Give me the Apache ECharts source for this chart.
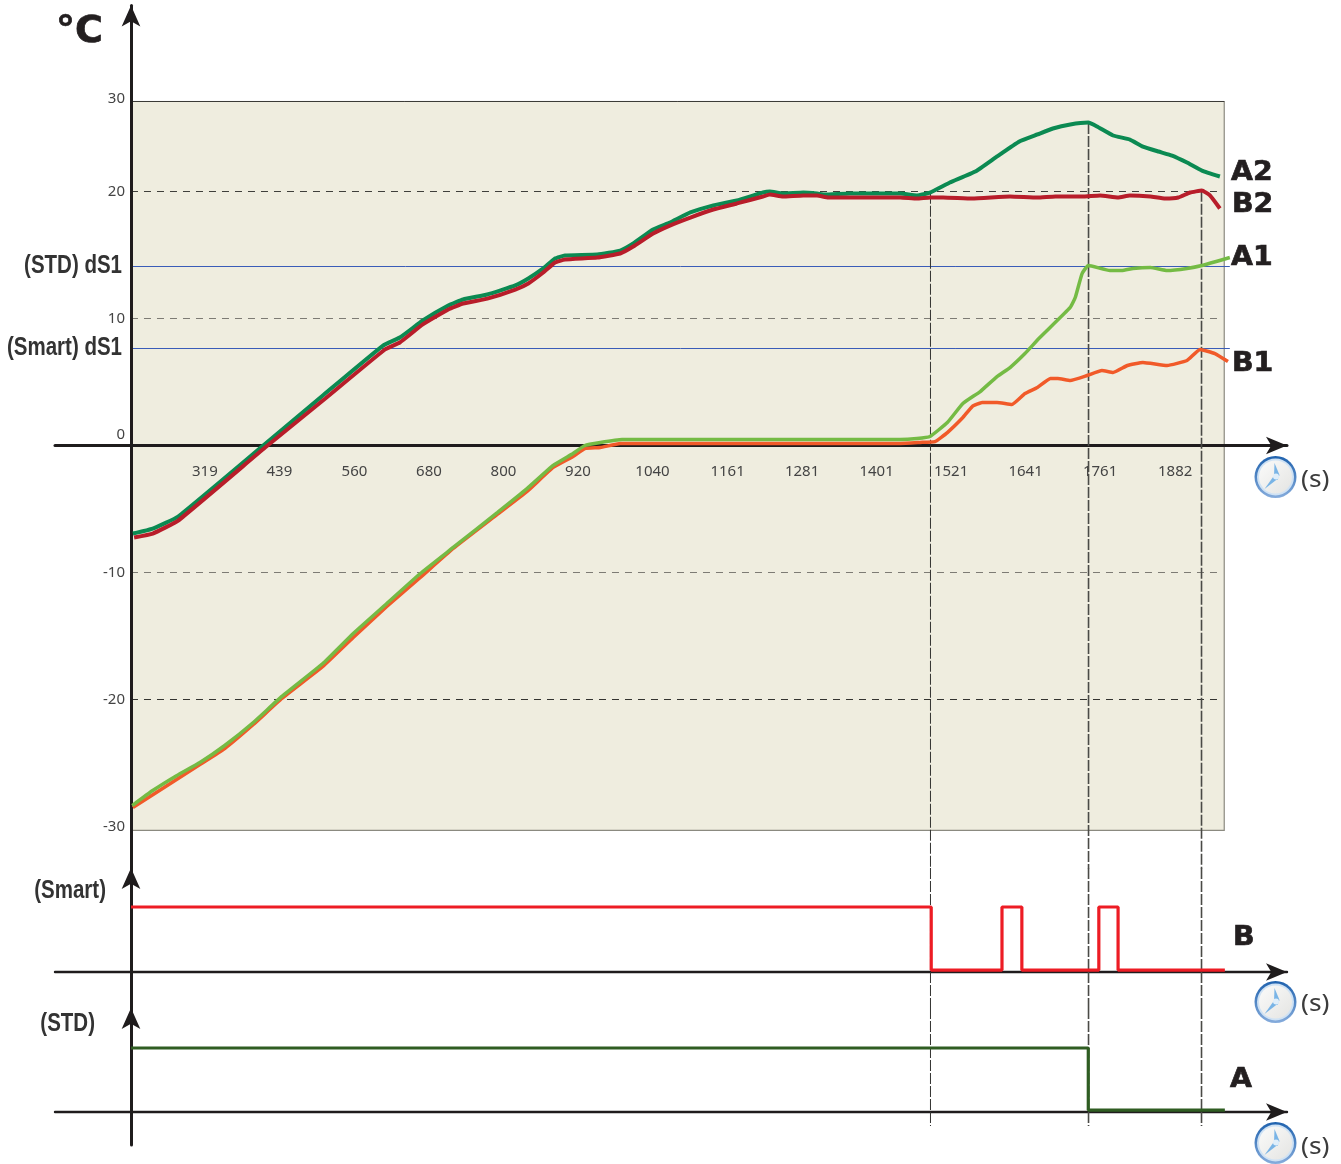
<!DOCTYPE html>
<html>
<head>
<meta charset="utf-8">
<style>html,body{margin:0;padding:0;background:#fff}#c{width:1341px;height:1164px}</style>
<script src="https://cdn.jsdelivr.net/npm/echarts@6/dist/echarts.min.js"></script>
</head>
<body>
<div id="c"></div>
<script>
// ---- data ----
const xTicks = [319,439,560,680,800,920,1040,1161,1281,1401,1521,1641,1761,1882];
const yTicks = [-30,-20,-10,0,10,20,27.087];
const yTickLabels = ['-30','-20','-10','0','10','20','30'];
const dashLevels = [20,10,-10,-20];
const dashColors = ['#3f3f3b','#7d7b74','#7d7b74','#33332f'];
const setpoints = [14.094,7.638];
const markerTimes = [1487.8,1742.4,1924.4];
const markerTops = [19.9,25.4,20.05];

const a2 = [[203,-6.93],[235,-6.54],[276,-5.59],[413,0],[509,3.94],[606,7.87],[633,8.5],[670,9.84],[711,11.02],[735,11.5],[774,11.89],[819,12.6],[840,13.15],[864,13.94],[883,14.72],[899,14.96],[951,15.04],[988,15.35],[1009,15.91],[1041,17.01],[1068,17.56],[1101,18.35],[1138,18.9],[1176,19.29],[1218,19.92],[1229,20],[1250,19.84],[1283,19.92],[1305,19.84],[1318,19.76],[1358,19.84],[1439,19.84],[1466,19.69],[1487,19.92],[1519,20.71],[1560,21.57],[1595,22.76],[1631,23.94],[1660,24.49],[1685,24.96],[1713,25.28],[1742,25.43],[1756,25.12],[1782,24.41],[1809,24.09],[1830,23.54],[1855,23.15],[1877,22.83],[1901,22.28],[1925,21.65],[1954,21.18]];
const b2 = [[205,-7.24],[235,-6.93],[276,-5.91],[416,-0.16],[513,3.7],[609,7.56],[633,8.11],[670,9.53],[711,10.71],[735,11.18],[774,11.57],[819,12.28],[840,12.76],[864,13.62],[883,14.41],[899,14.65],[951,14.8],[988,15.12],[1009,15.67],[1041,16.69],[1068,17.32],[1101,17.95],[1138,18.58],[1176,19.06],[1218,19.61],[1229,19.76],[1250,19.61],[1283,19.69],[1305,19.69],[1323,19.53],[1358,19.53],[1439,19.53],[1466,19.45],[1487,19.53],[1508,19.53],[1555,19.45],[1616,19.61],[1660,19.53],[1689,19.61],[1732,19.61],[1761,19.69],[1790,19.53],[1809,19.69],[1842,19.61],[1866,19.45],[1887,19.53],[1906,19.92],[1925,20.08],[1938,19.69],[1954,18.66]];
const a1 = [[202,-28.35],[235,-27.17],[274,-25.98],[311,-24.96],[351,-23.62],[397,-21.81],[443,-19.76],[509,-17.17],[558,-14.8],[612,-12.44],[666,-10.08],[719,-8.03],[790,-5.28],[838,-3.39],[880,-1.57],[912,-0.63],[931,0],[956,0.24],[991,0.47],[1439,0.47],[1466,0.55],[1487,0.71],[1515,1.81],[1540,3.31],[1568,4.25],[1595,5.43],[1616,6.14],[1640,7.24],[1664,8.5],[1713,10.87],[1721,11.65],[1732,13.54],[1742,14.17],[1777,13.78],[1796,13.78],[1814,13.94],[1842,14.02],[1869,13.78],[1901,13.94],[1925,14.17],[1970,14.8]];
const b1 = [[203,-28.5],[311,-25.12],[351,-23.86],[397,-21.97],[443,-19.92],[509,-17.4],[558,-15.12],[612,-12.68],[666,-10.39],[719,-8.11],[790,-5.43],[838,-3.62],[880,-1.73],[912,-0.87],[931,-0.24],[956,-0.16],[988,0.16],[1439,0.16],[1471,0.24],[1495,0.31],[1515,1.02],[1540,2.2],[1555,3.07],[1571,3.39],[1595,3.39],[1619,3.23],[1640,4.09],[1660,4.57],[1681,5.28],[1693,5.28],[1713,5.12],[1740,5.51],[1764,5.91],[1782,5.75],[1805,6.3],[1830,6.54],[1869,6.3],[1901,6.69],[1922,7.56],[1946,7.24],[1967,6.61]];
const smartTimes = [200,1489,1603,1635,1759,1790,1962];
const smartStates = [1,0.03,1,0.03,1,0.03,0.03];
const stdTimes = [200,1742,1962];
const stdStates = [1,0.03,0.03];

// ---- scales ----
const T0 = 200, T1 = 1961;
const TMIN = 77.58, TMAX = 2062.1;
const PLOT_TOP = 27.087, PLOT_BOTTOM = -30.31;
const FONT = '"Noto Sans", sans-serif';
const NARROW = '"Liberation Sans", sans-serif';
const HEAVY = '"DejaVu Sans", sans-serif';

const chart = echarts.init(document.getElementById('c'), null, {renderer:'canvas'});

function xAxis(i, width){
  return {type:'value', gridIndex:i, min:TMIN, max:TMAX, z:1, silent:true,
    axisLine:{show:true, onZero:true, symbol:['none','arrow'], symbolSize:[13,21], lineStyle:{color:'#1f1c1d', width:width}},
    axisTick:{show:false}, splitLine:{show:false}, axisLabel:{show:false}};
}
function yAxis(i, min, max, labels){
  return {type:'value', gridIndex:i, min:min, max:max, z:1, silent:true, position:'left', offset:-76,
    axisLine:{show:true, onZero:false, symbol:['none','arrow'], symbolSize:[14,21], lineStyle:{color:'#1f1c1d', width:3}},
    axisTick:{show:false}, splitLine:{show:false},
    axisLabel: labels ? {show:true, customValues:yTicks, margin:6, hideOverlap:false,
      formatter:function(v){
        const t = yTickLabels[yTicks.indexOf(v)];
        if (t==='0') return '{zero|0}';
        if (t==='30') return '{top|30}';
        return '{n|'+t+'}';
      },
      rich:{
        n:{fontFamily:FONT,fontSize:15,color:'#444',padding:[1,0,0,0]},
        zero:{fontFamily:FONT,fontSize:15,color:'#444',padding:[0,0,21,0]},
        top:{fontFamily:FONT,fontSize:15,color:'#444',padding:[0,0,5,0]}
      }} : {show:false}};
}
function line(name, data, color, width, z, extra){
  return Object.assign({name:name, type:'line', data:data, symbol:'none', silent:true, clip:false, z:z,
    animation:false, lineStyle:{color:color, width:width}}, extra||{});
}

const series = [];
series.push({name:'plot', type:'line', data:[[T0,0]], symbol:'none', silent:true, z:0, animation:false, lineStyle:{opacity:0},
  markArea:{silent:true, z:0, animation:false, itemStyle:{color:'#efeddf', borderColor:'#8b8a80', borderWidth:1.2},
    data:[[{coord:[T0,PLOT_TOP]},{coord:[T1,PLOT_BOTTOM]}]]}});
series.push(line('plot top', [[T0,PLOT_TOP],[T1,PLOT_TOP]], '#3a3a36', 1, 0.5));
dashLevels.forEach(function(v,i){
  series.push(line('level '+v, [[T0,v],[1954,v]], dashColors[i], 1, 0.5, {lineStyle:{color:dashColors[i],width:1,type:[7,6]}}));
});
setpoints.forEach(function(v){
  series.push(line('dS1 '+v, [[T0,v],[1970,v]], '#3a5cb8', 1, 0.6));
});
markerTimes.forEach(function(t,i){
  const st = {color:i===0?'#333331':'#4a4a46', width:i===0?1:1.6, type:[11,2]};
  series.push(line('marker a'+i, [[t,markerTops[i]],[t,-33.3]], st.color, st.width, 1.5, {lineStyle:st}));
  series.push(line('marker b'+i, [[t,1.6],[t,-0.5538]], st.color, st.width, 1.5, {lineStyle:st, xAxisIndex:1, yAxisIndex:1}));
  series.push(line('marker c'+i, [[t,1.625],[t,-0.2188]], st.color, st.width, 1.5, {lineStyle:st, xAxisIndex:2, yAxisIndex:2}));
});
const sm = {smooth:0.12};
series.push(line('A2', a2, '#0b8a52', 4, 2, sm));
series.push(line('B2', b2, '#b81d2a', 4, 3, sm));
series.push(line('B1', b1, '#f15a29', 3.5, 4, sm));
series.push(line('A1', a1, '#74bb44', 3.5, 5, sm));
series.push(line('B', smartTimes.map(function(t,i){return [t,smartStates[i]];}), '#ed1c24', 3.2, 3, {step:'end', xAxisIndex:1, yAxisIndex:1}));
series.push(line('A', stdTimes.map(function(t,i){return [t,stdStates[i]];}), '#2f5d22', 3.2, 3, {step:'end', xAxisIndex:2, yAxisIndex:2}));

function clock(cx, cy){
  return {type:'group', x:cx, y:cy, silent:true, z:10, children:[
    {type:'circle', shape:{cx:0,cy:0,r:21}, style:{fill:{type:'linear',x:0,y:0,x2:0,y2:1,colorStops:[{offset:0,color:'#1f62ae'},{offset:1,color:'#86acdc'}]}}},
    {type:'circle', shape:{cx:0,cy:0,r:18.5}, style:{fill:'#cfe2f4'}},
    {type:'circle', shape:{cx:0,cy:0,r:16.5}, style:{fill:{type:'linear',x:0,y:0,x2:1,y2:1,colorStops:[{offset:0,color:'#fbfbfa'},{offset:1,color:'#e4e4e2'}]}}},
    {type:'polygon', shape:{points:[[-1.5,0],[-1,-14],[4,-2],[2,3]]}, style:{fill:'#79b4e6'}},
    {type:'polygon', shape:{points:[[-1,-2],[2,2],[-11,12]]}, style:{fill:'#79b4e6'}},
    {type:'circle', shape:{cx:0.5,cy:-0.5,r:3}, style:{fill:'#dfeefa'}}
  ]};
}
function txt(x, y, s, font, size, weight, color, align, sx, heavy){
  const style = {text:s, fontFamily:font, fontSize:size, fontWeight:weight, fill:color, align:align||'left', verticalAlign:'middle'};
  if (heavy) { style.stroke = color; style.lineWidth = 0.7; }
  return {type:'text', x:x, y:y, silent:true, z:10, scaleX:sx||1, style:style};
}
function big(x, y, s){ return txt(x, y, s, HEAVY, 27, 'bold', '#231f20', 'left', 1.05, true); }

chart.setOption({
  animation:false,
  backgroundColor:'#fff',
  grid:[
    {left:55, top:5.5, width:1232, height:863, outerBoundsMode:'none'},
    {left:55, top:868, width:1232, height:140, outerBoundsMode:'none'},
    {left:55, top:1008, width:1232, height:137, outerBoundsMode:'none'},
    {left:55, top:5, width:1232, height:440, outerBoundsMode:'none'}
  ],
  xAxis:[xAxis(0,3), xAxis(1,2.4), xAxis(2,2.4),
    {type:'value', gridIndex:3, min:TMIN, max:TMAX, position:'bottom', z:1, silent:true,
     axisLine:{show:false}, axisTick:{show:false}, splitLine:{show:false},
     axisLabel:{show:true, customValues:xTicks, margin:19, fontFamily:FONT, fontSize:15, color:'#444', hideOverlap:false, formatter:function(v){return String(v);}}}
  ],
  yAxis:[yAxis(0,-33.307,34.646,true), yAxis(1,-0.5538,1.6,false), yAxis(2,-0.5156,1.625,false),
    {type:'value', gridIndex:3, show:false, min:0, max:1}
  ],
  series:series,
  graphic:[
    txt(56,32,'°C',HEAVY,38,'bold','#231f20','left',1,true),
    big(1231,173,'A2'), big(1232,205,'B2'), big(1231,258,'A1'), big(1232,364,'B1'),
    big(1233,938,'B'), big(1230,1080,'A'),
    txt(122,266,'(STD) dS1',NARROW,25,'bold','#333','right',0.82),
    txt(122,348,'(Smart) dS1',NARROW,25,'bold','#333','right',0.82),
    txt(106,891,'(Smart)',NARROW,25,'bold','#333','right',0.82),
    txt(95,1024,'(STD)',NARROW,25,'bold','#333','right',0.82),
    clock(1275.5,477), clock(1275.5,1002), clock(1275.5,1143),
    txt(1301,480,'(s)',FONT,24,'normal','#3c3c3c','left',1.1),
    txt(1301,1004,'(s)',FONT,24,'normal','#3c3c3c','left',1.1),
    txt(1301,1147,'(s)',FONT,24,'normal','#3c3c3c','left',1.1)
  ]
});
</script>
</body>
</html>
